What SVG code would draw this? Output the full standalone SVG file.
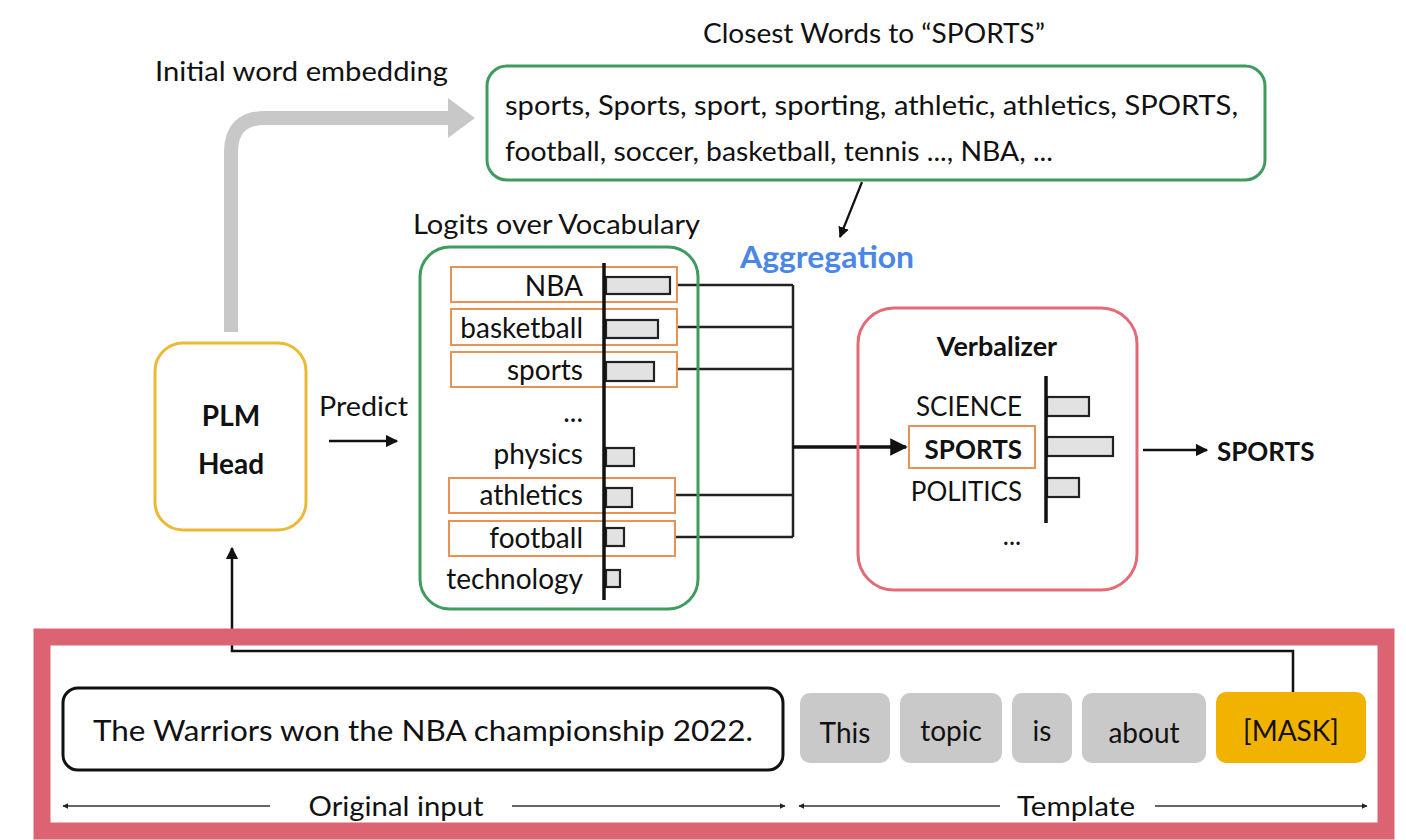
<svg xmlns="http://www.w3.org/2000/svg" width="1406" height="840" viewBox="0 0 1406 840">
<defs>
<marker id="ah" viewBox="0 0 10 10" refX="9" refY="5" markerWidth="5" markerHeight="5" orient="auto-start-reverse"><path d="M0,0 L10,5 L0,10 z" fill="#111"/></marker>
<marker id="ahg" viewBox="0 0 10 10" refX="9" refY="5" markerWidth="4" markerHeight="4" orient="auto-start-reverse"><path d="M0,0 L10,5 L0,10 z" fill="#222"/></marker>
<style>
text{font-family:Lato,"Open Sans","Liberation Sans",sans-serif;fill:#111}
.t{font-size:26px}
.r{font-size:28px}
.b{font-weight:bold}
.green{fill:none;stroke:#3f9b5e;stroke-width:3}
.ob{fill:#fff;stroke:#e89256;stroke-width:2}
.bar{fill:#e2e2e2;stroke:#222;stroke-width:2.2}
.ax{stroke:#111;stroke-width:3.5}
.ln{fill:none;stroke:#222;stroke-width:2.5}
.tok{fill:#c9c9c9}
.gl{stroke:#333;stroke-width:1.5}
</style>
</defs>
<rect width="1406" height="840" fill="#fff"/>

<g id="connectors">
<path d="M231,332 V152 Q231,118 265,118 H455" fill="none" stroke="#c8c8c8" stroke-width="14"/>
<polygon points="448,98 475,118 448,138" fill="#c8c8c8"/>
<line x1="862" y1="182" x2="840" y2="237" stroke="#111" stroke-width="2.2" marker-end="url(#ah)"/>
<line x1="329" y1="441" x2="397" y2="441" stroke="#111" stroke-width="2.5" marker-end="url(#ah)"/>
<path class="ln" d="M677,285 H793 M677,327 H793 M677,369 H793 M675,495 H793 M675,537 H793 M793,285 V537"/>
<line x1="793" y1="447" x2="906" y2="447" stroke="#111" stroke-width="3.5" marker-end="url(#ah)"/>
<line x1="1143" y1="450" x2="1207" y2="450" stroke="#111" stroke-width="2.5" marker-end="url(#ah)"/>
<path d="M1293,692 V651 H232 V548" fill="none" stroke="#111" stroke-width="2.5" marker-end="url(#ah)"/>
</g>

<g id="label-initial"><text class="t" x="155" y="81" textLength="293" lengthAdjust="spacingAndGlyphs">Initial word embedding</text></g>
<g id="label-closest"><text class="t" x="703" y="43" textLength="342" lengthAdjust="spacingAndGlyphs">Closest Words to “SPORTS”</text></g>

<g id="closest-box">
<rect class="green" x="487" y="66" width="778" height="114" rx="20"/>
<text class="t" x="505" y="115" textLength="733" lengthAdjust="spacingAndGlyphs">sports, Sports, sport, sporting, athletic, athletics, SPORTS,</text>
<text class="t" x="505" y="161" textLength="548" lengthAdjust="spacingAndGlyphs">football, soccer, basketball, tennis ..., NBA, ...</text>
</g>

<g id="aggregation"><text x="740" y="268" font-size="30" class="b" style="fill:#4a86e8" textLength="174" lengthAdjust="spacingAndGlyphs">Aggregation</text></g>

<g id="plm-head">
<rect x="155" y="343" width="151" height="187" rx="28" fill="#fff" stroke="#ecb935" stroke-width="3"/>
<text x="231" y="426" font-size="28" class="b" text-anchor="middle">PLM</text>
<text x="231" y="474" font-size="28" class="b" text-anchor="middle">Head</text>
</g>
<g id="label-predict"><text class="t" x="319" y="416" textLength="89" lengthAdjust="spacingAndGlyphs">Predict</text></g>

<g id="logits">
<text class="t" x="413" y="234" textLength="287" lengthAdjust="spacingAndGlyphs">Logits over Vocabulary</text>
<rect class="green" x="420" y="247" width="278" height="362" rx="30"/>
<rect class="ob" x="451" y="267" width="226" height="35"/>
<rect class="ob" x="451" y="309" width="226" height="36"/>
<rect class="ob" x="451" y="352" width="226" height="35"/>
<rect class="ob" x="449" y="478" width="226" height="35"/>
<rect class="ob" x="449" y="521" width="226" height="35"/>
<rect class="bar" x="606" y="277" width="64" height="17"/>
<rect class="bar" x="606" y="320" width="52" height="18"/>
<rect class="bar" x="606" y="362" width="48" height="19"/>
<rect class="bar" x="606" y="448" width="28" height="18"/>
<rect class="bar" x="606" y="488" width="26" height="19"/>
<rect class="bar" x="606" y="528" width="18" height="18"/>
<rect class="bar" x="606" y="570" width="14" height="17"/>
<line class="ax" x1="604" y1="263" x2="604" y2="600"/>
<g class="r" text-anchor="end">
<text x="583" y="296">NBA</text>
<text x="583" y="338">basketball</text>
<text x="583" y="380">sports</text>
<text x="583" y="422">...</text>
<text x="583" y="464">physics</text>
<text x="583" y="505">athletics</text>
<text x="583" y="548">football</text>
<text x="583" y="589">technology</text>
</g>
</g>

<g id="verbalizer">
<rect x="858" y="308" width="279" height="282" rx="36" fill="none" stroke="#e46b76" stroke-width="3"/>
<text x="997" y="356" font-size="27" class="b" text-anchor="middle">Verbalizer</text>
<rect class="ob" x="909" y="426" width="126" height="42"/>
<rect class="bar" x="1047" y="397" width="42" height="19"/>
<rect class="bar" x="1047" y="437" width="66" height="19"/>
<rect class="bar" x="1047" y="478" width="32" height="19"/>
<line class="ax" x1="1046" y1="376" x2="1046" y2="523"/>
<g font-size="26" text-anchor="end">
<text x="1022" y="416">SCIENCE</text>
<text x="1022" y="459" class="b">SPORTS</text>
<text x="1022" y="501">POLITICS</text>
</g>
<text class="t" x="1012" y="545" text-anchor="middle">...</text>
</g>

<g id="output"><text x="1217" y="461" font-size="26" class="b">SPORTS</text></g>

<g id="input-frame"><rect x="42" y="637" width="1344" height="194" fill="none" stroke="#dc6372" stroke-width="17"/></g>

<g id="original-input">
<rect x="63" y="688" width="720" height="82" rx="15" fill="#fff" stroke="#111" stroke-width="3"/>
<text x="423" y="741" font-size="28" text-anchor="middle" textLength="660" lengthAdjust="spacingAndGlyphs">The Warriors won the NBA championship 2022.</text>
</g>

<g id="template">
<rect class="tok" x="800" y="693" width="90" height="70" rx="10"/>
<rect class="tok" x="900" y="693" width="102" height="70" rx="10"/>
<rect class="tok" x="1012" y="693" width="60" height="70" rx="10"/>
<rect class="tok" x="1082" y="693" width="124" height="70" rx="10"/>
<rect x="1216" y="692" width="150" height="71" rx="10" fill="#f1b300"/>
<g font-size="28" text-anchor="middle">
<text x="845" y="743">This</text>
<text x="951" y="741">topic</text>
<text x="1042" y="741">is</text>
<text x="1144" y="743">about</text>
<text x="1291" y="741">[MASK]</text>
</g>
</g>

<g id="spans">
<line class="gl" x1="270" y1="806" x2="63" y2="806" marker-end="url(#ahg)"/>
<line class="gl" x1="512" y1="806" x2="785" y2="806" marker-end="url(#ahg)"/>
<text class="t" x="396" y="816" text-anchor="middle" textLength="175" lengthAdjust="spacingAndGlyphs">Original input</text>
<line class="gl" x1="1000" y1="806" x2="799" y2="806" marker-end="url(#ahg)"/>
<line class="gl" x1="1155" y1="806" x2="1367" y2="806" marker-end="url(#ahg)"/>
<text class="t" x="1076" y="816" text-anchor="middle" textLength="118" lengthAdjust="spacingAndGlyphs">Template</text>
</g>
</svg>
